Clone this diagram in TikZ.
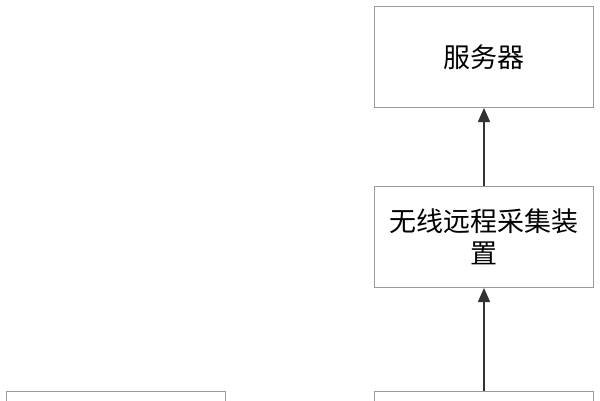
\documentclass[tikz,border=0pt]{standalone}
\usepackage{fontspec}
\newfontfamily\cjk{Noto Sans CJK SC}
\usetikzlibrary{arrows.meta}
\definecolor{boxline}{HTML}{9A9A9A}
\definecolor{arrowc}{HTML}{333333}
\tikzset{
  box/.style={draw=boxline, line width=1pt, fill=white, minimum width=219pt, minimum height=101pt, inner sep=0pt, align=center, font=\cjk\fontsize{27}{32}\selectfont, text=black, anchor=north west},
  conn/.style={draw=arrowc, line width=1.6pt, -{Triangle[length=14pt,width=12pt]}}
}
\begin{document}
\begin{tikzpicture}[x=1pt,y=-1pt]
\useasboundingbox (0,0) rectangle (600,400);
\clip (0,0) rectangle (600,400);
\node[box] (server) at (374,6) {服务器};
\node[box] (wireless) at (374,186) {无线远程采集装\\置};
\node[box] (left) at (6,391) {};
\node[box] (right) at (374,391) {};
\draw[conn] (right.north) -- (wireless.south);
\draw[conn] (wireless.north) -- (server.south);
\end{tikzpicture}
\end{document}
